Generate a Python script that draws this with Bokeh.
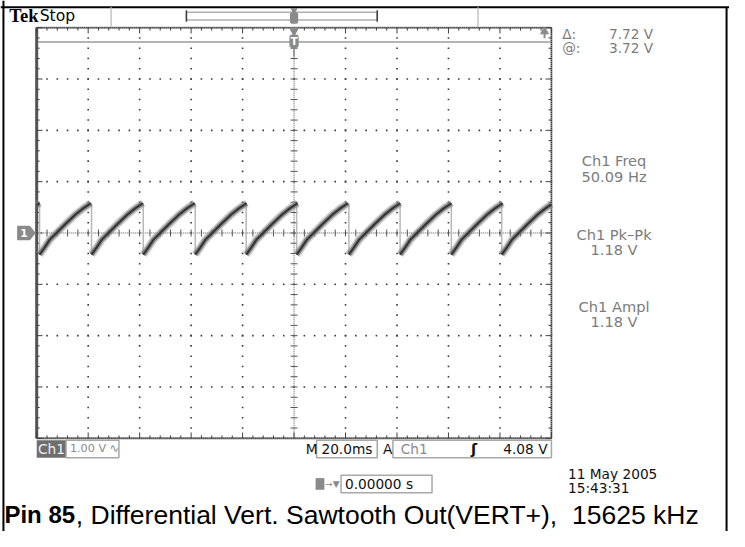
import numpy as np
from bokeh.plotting import figure
from bokeh.models import Range1d, Label
from bokeh.embed import file_html
from bokeh.resources import INLINE

# ---------------- data ----------------
ms_per_div = 20.0          # M 20.0ms
volts_per_div = 1.00       # Ch1 1.00 V
n_xdiv, n_ydiv = 10, 8
freq_hz = 50.09            # Ch1 Freq
# times (ms, relative to trigger) where the sawtooth drops back
drop_times_ms = [-98.9, -78.7, -58.6, -38.4, -18.6, 1.0, 21.3, 41.2, 61.1, 80.7]
# one ramp of the sawtooth: fraction of period -> volts
ramp_phase = [0.0, 0.1, 0.2, 0.33, 0.5, 0.7, 0.85, 1.0]
ramp_volts = [-0.42, -0.28, -0.13, 0.0, 0.17, 0.36, 0.48, 0.58]
cursor_volts = [3.72, -4.00]   # @: 3.72 V, delta 7.72 V
readout_top = [("\u0394:", "7.72 V"), ("@:", "3.72 V")]
readout_meas = [("Ch1 Freq", "50.09 Hz"), ("Ch1 Pk\u2013Pk", "1.18 V"), ("Ch1 Ampl", "1.18 V")]
ch1_scale = "1.00 V \u223f"
timebase = "20.0ms"
trig_src, trig_level = "Ch1", "4.08 V"
trig_pos = "0.00000 s"
date_txt, time_txt = "11 May 2005", "15:43:31"
caption_bold = "Pin 85"
caption_rest = ", Differential Vert. Sawtooth Out(VERT+),\u00a0\u00a015625 kHz"

# ---------------- layout (reference pixel coordinates, scaled to canvas) ----------------
RW, RH = 745, 547
W, H = 729, 531
SC = 0.975
def fs(n):
    return f"{n * SC:.1f}px"

GX0, GX1, GY0, GY1 = 37, 563, 28, 451

p = figure(width=W, height=H, x_range=Range1d(0, RW), y_range=Range1d(RH, 0),
           min_border=0, toolbar_location=None, output_backend="svg")
p.axis.visible = False
p.grid.visible = False
p.outline_line_color = None
p.background_fill_color = "white"
p.border_fill_color = "white"

tspan = n_xdiv * ms_per_div
vspan = n_ydiv * volts_per_div
px_per_ms = (GX1 - GX0) / tspan
px_per_v = (GY1 - GY0) / vspan
tmin, tmax = -tspan / 2, tspan / 2
vmin, vmax = -vspan / 2, vspan / 2
p.extra_x_ranges["ms"] = Range1d(tmin - GX0 / px_per_ms, tmax + (RW - GX1) / px_per_ms)
p.extra_y_ranges["v"] = Range1d(vmin - (RH - GY1) / px_per_v, vmax + GY0 / px_per_v)
XV = dict(x_range_name="ms", y_range_name="v")
XP = dict(x_range_name="ms")          # x in ms, y in pixels
YV = dict(y_range_name="v")           # x in pixels, y in volts

major_t = np.arange(tmin, tmax + 1e-9, ms_per_div)
minor_t = np.arange(tmin, tmax + 1e-9, ms_per_div / 5)
major_v = np.arange(vmin, vmax + 1e-9, volts_per_div)
minor_v = np.arange(vmin, vmax + 1e-9, volts_per_div / 5)

DOT = "#3a3a3a"
# dotted graticule lines
dx, dy = [], []
for v in major_v[1:-1]:
    if abs(v) < 1e-9:
        continue
    dx += list(minor_t); dy += [v] * len(minor_t)
for t in major_t[1:-1]:
    if abs(t) < 1e-9:
        continue
    dx += [t] * len(minor_v); dy += list(minor_v)
p.scatter(dx, dy, marker="square", size=1.6, color=DOT, line_color=None, **XV)

# center cross with ticks
p.line([tmin, tmax], [0, 0], line_color="#555555", line_width=1, line_dash="1 1", **XV)
p.line([0, 0], [vmin, vmax], line_color="#555555", line_width=1, line_dash="1 1", **XV)
p.scatter(minor_t, [0] * len(minor_t), marker="dash", angle=np.pi / 2, size=7,
          line_color="#555555", line_width=1, **XV)
p.scatter([0] * len(minor_v), minor_v, marker="dash", size=7,
          line_color="#555555", line_width=1, **XV)

# cursors
for cv in cursor_volts:
    p.line([tmin, tmax], [cv, cv], line_color="#b4b4b4", line_width=2, **XV)

# frame
p.line([tmin, tmax, tmax, tmin, tmin], [vmin, vmin, vmax, vmax, vmin],
       line_color="#8c8c8c", line_width=2, **XV)
p.line([tmin, tmax, tmax, tmin, tmin], [vmin, vmin, vmax, vmax, vmin],
       line_color="#303030", line_width=1, line_dash="1 1", **XV)
p.line([tmin, tmin], [vmin, vmax], line_color="#555555", line_width=3, **XV)
# edge ticks
for t in minor_t:
    ln = 6 if any(abs(t - m) < 1e-9 for m in major_t) else 3
    p.segment([t, t], [GY0, GY1], [t, t], [GY0 + ln, GY1 - ln], line_color="#404040", line_width=1, **XP)
for v in minor_v:
    ln = 6 if any(abs(v - m) < 1e-9 for m in major_v) else 3
    p.segment([GX0, GX1], [v, v], [GX0 + ln, GX1 - ln], [v, v], line_color="#404040", line_width=1, **YV)

# ---------------- waveform ----------------
period = 1000.0 / freq_hz
ph = np.array(ramp_phase)
rv = np.array(ramp_volts)
starts = [drop_times_ms[0] - period] + list(drop_times_ms)
xs, ys = [], []
for t0 in starts:
    ts = t0 + ph * period
    lo, hi = max(tmin, ts[0]), min(tmax, ts[-1])
    if hi <= lo:
        continue
    inner = (ts > lo) & (ts < hi)
    tt = np.concatenate([[lo], ts[inner], [hi]])
    vv = np.interp(tt, ts, rv)
    xs.append(list(tt)); ys.append(list(vv))
p.segment(drop_times_ms, [ramp_volts[-1]] * len(drop_times_ms), drop_times_ms,
          [ramp_volts[0]] * len(drop_times_ms), line_color="#b8b8b8", line_width=1.5, **XV)
p.multi_line(xs, ys, line_color="#9a9a9a", line_width=8, line_alpha=0.45, **XV)
p.multi_line(xs, ys, line_color="#6a6a6a", line_width=5, line_alpha=0.7, **XV)
p.multi_line(xs, ys, line_color="#333333", line_width=2, **XV)

# ---------------- markers ----------------
GREY = "#8a8a8a"
hh = 7.5 / px_per_v
p.patch([17, 30, 36, 30, 17], [hh, hh, 0, -hh, -hh], fill_color=GREY, line_color=None, **YV)
p.add_layout(Label(x=24, y=0, text="1", text_color="white", text_font="DejaVu Sans",
                   text_font_style="bold", text_font_size=fs(11), text_align="center",
                   text_baseline="middle", **YV))
# trigger position markers
p.segment([0], [48], [0], [58], line_color=GREY, line_width=1.5, **XP)
p.scatter([0], [31], marker="inverted_triangle", size=9, color=GREY, **XP)
p.quad(left=[-1.8], right=[1.8], top=[35], bottom=[49], fill_color=GREY, line_color=None,
       border_radius=3, **XP)
p.add_layout(Label(x=0, y=42, text="T", text_color="white", text_font="DejaVu Sans",
                   text_font_style="bold", text_font_size=fs(11), text_align="center",
                   text_baseline="middle", **XP))
# trigger level off-screen arrow
p.segment([556], [31], [556], [39], line_color=GREY, line_width=2)
p.scatter([556], [32], marker="triangle", size=8, color=GREY)

# ---------------- frame and top bar ----------------
p.line([0, RW], [7, 7], line_color="black", line_width=2)
p.line([3, 3], [0, RH], line_color="black", line_width=2)
p.line([742, 742], [7, RH], line_color="black", line_width=2)
p.segment([113, 488], [7, 7], [113, 488], [27, 27], line_color="#c4c4c4", line_width=1.5)
p.quad(left=[190], right=[385], top=[12], bottom=[20], fill_color=None, line_color="#b0b0b0", line_width=1.5)
p.segment([190, 385], [10, 10], [190, 385], [22, 22], line_color="#404040", line_width=1.5)
p.quad(left=[-1.6], right=[1.6], top=[12], bottom=[24], fill_color=GREY, line_color=None,
       border_radius=2, **XP)
p.scatter([0], [10], marker="inverted_triangle", size=6, color=GREY, **XP)
p.add_layout(Label(x=9, y=16, text="Tek", text_font="Liberation Serif", text_font_style="bold",
                   text_font_size=fs(19), text_color="black", text_baseline="middle"))
p.add_layout(Label(x=40, y=16, text="Stop", text_font="DejaVu Sans",
                   text_font_size=fs(16), text_color="black", text_baseline="middle"))

# ---------------- right readouts ----------------
RC = "#7c7c7c"
for i, (a, b) in enumerate(readout_top):
    yy = 35 + 14 * i
    p.add_layout(Label(x=574, y=yy, text=a, text_font="DejaVu Sans", text_font_size=fs(14),
                       text_color=RC, text_baseline="middle"))
    p.add_layout(Label(x=667, y=yy, text=b, text_font="DejaVu Sans", text_font_size=fs(14),
                       text_color=RC, text_baseline="middle", text_align="right"))
for (a, b), yy in zip(readout_meas, [165, 241, 315]):
    p.add_layout(Label(x=627, y=yy, text=a, text_font="DejaVu Sans", text_font_size=fs(15),
                       text_color=RC, text_baseline="middle", text_align="center"))
    p.add_layout(Label(x=627, y=yy + 16, text=b, text_font="DejaVu Sans", text_font_size=fs(15),
                       text_color=RC, text_baseline="middle", text_align="center"))

# ---------------- bottom status ----------------
BY = 462
p.quad(left=[37], right=[67], top=[453], bottom=[471], fill_color="#6e6e6e", line_color=None)
p.add_layout(Label(x=52, y=BY, text="Ch1", text_font="DejaVu Sans", text_font_size=fs(14),
                   text_color="#eeeeee", text_baseline="middle", text_align="center"))
p.quad(left=[67], right=[121], top=[453], bottom=[471], fill_color=None, line_color="#a8a8a8", line_width=1.5)
p.add_layout(Label(x=96, y=BY, text=ch1_scale, text_font="DejaVu Sans", text_font_size=fs(11.5),
                   text_color="#8a8a8a", text_baseline="middle", text_align="center"))
p.add_layout(Label(x=312, y=BY, text="M", text_font="DejaVu Sans", text_font_size=fs(14),
                   text_color="#111111", text_baseline="middle"))
p.quad(left=[323], right=[385], top=[453], bottom=[471], fill_color=None, line_color="#a8a8a8", line_width=1.5)
p.add_layout(Label(x=354, y=BY, text=timebase, text_font="DejaVu Sans", text_font_size=fs(14),
                   text_color="#111111", text_baseline="middle", text_align="center"))
p.add_layout(Label(x=391, y=BY, text="A", text_font="DejaVu Sans", text_font_size=fs(14),
                   text_color="#111111", text_baseline="middle"))
p.quad(left=[401], right=[563], top=[453], bottom=[471], fill_color=None, line_color="#a8a8a8", line_width=1.5)
p.add_layout(Label(x=409, y=BY, text=trig_src, text_font="DejaVu Sans", text_font_size=fs(14),
                   text_color="#8a8a8a", text_baseline="middle"))
p.add_layout(Label(x=484, y=BY, text="\u0283", text_font="DejaVu Sans", text_font_size=fs(15),
                   text_font_style="bold", text_color="#111111", text_baseline="middle", text_align="center"))
p.add_layout(Label(x=559, y=BY, text=trig_level, text_font="DejaVu Sans", text_font_size=fs(14),
                   text_color="#111111", text_baseline="middle", text_align="right"))
p.quad(left=[322], right=[331], top=[492], bottom=[504], fill_color=GREY, line_color=None)
p.add_layout(Label(x=332, y=498, text="\u2192\u25bc", text_font="DejaVu Sans", text_font_size=fs(9),
                   text_color=GREY, text_baseline="middle"))
p.quad(left=[348], right=[441], top=[489], bottom=[507], fill_color=None, line_color="#a8a8a8", line_width=1.5)
p.add_layout(Label(x=352, y=498, text=trig_pos, text_font="DejaVu Sans", text_font_size=fs(14),
                   text_color="#111111", text_baseline="middle"))
p.add_layout(Label(x=580, y=488, text=date_txt, text_font="DejaVu Sans", text_font_size=fs(14),
                   text_color="#111111", text_baseline="middle"))
p.add_layout(Label(x=580, y=502, text=time_txt, text_font="DejaVu Sans", text_font_size=fs(14),
                   text_color="#111111", text_baseline="middle"))

# caption
p.add_layout(Label(x=4, y=530, text=caption_bold, text_font="Liberation Sans", text_font_style="bold",
                   text_font_size="24px", text_color="black", text_baseline="middle"))
p.add_layout(Label(x=77, y=530, text=caption_rest, text_font="Liberation Sans",
                   text_font_size="26.5px", text_color="black", text_baseline="middle"))

open("out.html", "w").write(file_html(p, INLINE))
